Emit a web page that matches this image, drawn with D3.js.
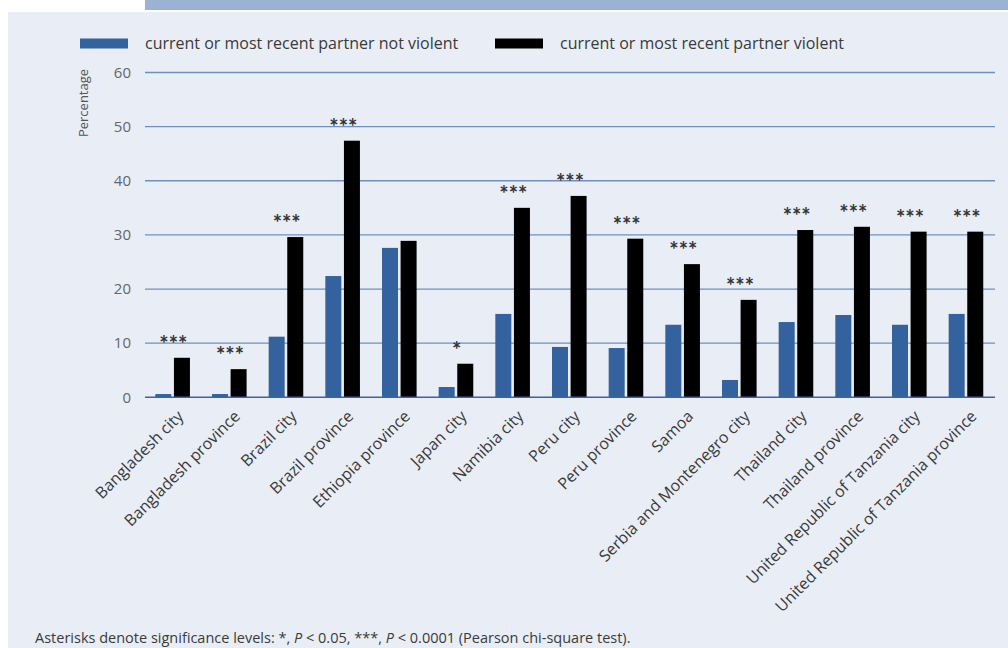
<!DOCTYPE html>
<html>
<head>
<meta charset="utf-8">
<script src="https://cdn.jsdelivr.net/npm/d3@7/dist/d3.min.js"></script>
<style>
  html, body { margin: 0; padding: 0; background: #ffffff; }
  svg { display: block; font-family: "Open Sans", "Lato", sans-serif; }
</style>
</head>
<body>
<svg id="chart" width="1008" height="648"></svg>
<script>
// Sites surveyed
const categories = [
  "Bangladesh city", "Bangladesh province", "Brazil city", "Brazil province",
  "Ethiopia province", "Japan city", "Namibia city", "Peru city", "Peru province",
  "Samoa", "Serbia and Montenegro city", "Thailand city", "Thailand province",
  "United Republic of Tanzania city", "United Republic of Tanzania province"
];
// Percentage, by whether the current or most recent partner was violent
const notViolent = [0.6, 0.6, 11.2, 22.4, 27.6, 1.9, 15.4, 9.3, 9.1, 13.4, 3.2, 13.9, 15.2, 13.4, 15.4];
const violent    = [7.3, 5.2, 29.6, 47.4, 28.9, 6.2, 35.0, 37.2, 29.3, 24.6, 18.0, 30.9, 31.5, 30.6, 30.6];
// Significance markers
const significance = ["***", "***", "***", "***", "", "*", "***", "***", "***", "***", "***", "***", "***", "***", "***"];
const yTicks = [0, 10, 20, 30, 40, 50, 60];
const seriesNames = ["current or most recent partner not violent", "current or most recent partner violent"];

const svg = d3.select("#chart");
const W = 1008, H = 648;
const colBlue = "#33629e", colBlack = "#000000";
const textCol = "#3a3a3a";

// panel and header band
svg.append("rect").attr("x", 8).attr("y", 12).attr("width", W - 8).attr("height", H - 12).attr("fill", "#e9edf5");
svg.append("rect").attr("x", 145).attr("y", 0).attr("width", W - 145).attr("height", 10).attr("fill", "#9bb2d3");

const plotLeft = 145, plotRight = 995, plotTop = 72.5, plotBottom = 397.3;

const x = d3.scaleBand().domain(categories).range([plotLeft, plotRight]).paddingInner(0).paddingOuter(0);
const y = d3.scaleLinear().domain([0, 60]).range([plotBottom, plotTop]);

// gridlines
svg.append("g").selectAll("line").data(yTicks.filter(d => d > 0)).join("line")
  .attr("x1", plotLeft).attr("x2", plotRight)
  .attr("y1", d => y(d)).attr("y2", d => y(d))
  .attr("stroke", "#6f8fc0").attr("stroke-width", 1.3);

// y axis labels
const yAxis = d3.axisLeft(y).tickValues(yTicks).tickSize(0).tickPadding(14);
const gy = svg.append("g").attr("transform", `translate(${plotLeft},0)`).call(yAxis);
gy.select(".domain").remove();
gy.selectAll("text").attr("fill", "#666").attr("font-size", 15).attr("font-family", "Open Sans, sans-serif");

svg.append("text")
  .attr("transform", `translate(88,103) rotate(-90)`)
  .attr("text-anchor", "middle")
  .attr("fill", "#555").attr("font-size", 13)
  .text("Percentage");

// bars
const barW = 16, gap = 2.6;
const groups = svg.append("g").selectAll("g").data(categories).join("g")
  .attr("transform", d => `translate(${x(d) + x.bandwidth() / 2},0)`);

groups.append("rect")
  .attr("x", -barW - gap / 2 - 0.7).attr("width", barW)
  .attr("y", (d, i) => y(notViolent[i]))
  .attr("height", (d, i) => y(0) - y(notViolent[i]))
  .attr("fill", colBlue);

groups.append("rect")
  .attr("x", gap / 2 - 0.7).attr("width", barW)
  .attr("y", (d, i) => y(violent[i]))
  .attr("height", (d, i) => y(0) - y(violent[i]))
  .attr("fill", colBlack);

groups.append("text")
  .attr("x", 0)
  .attr("y", (d, i) => y(violent[i]) - 6)
  .attr("text-anchor", "middle")
  .attr("fill", "#333").attr("font-size", 22).attr("font-weight", "bold")
  .attr("font-family", "Lato, sans-serif")
  .text((d, i) => significance[i]);

// baseline
svg.append("line").attr("x1", plotLeft).attr("x2", plotRight).attr("y1", y(0)).attr("y2", y(0))
  .attr("stroke", "#3a64a4").attr("stroke-width", 1.5);

// category labels
const gx = svg.append("g").attr("transform", `translate(0,${plotBottom})`)
  .call(d3.axisBottom(x).tickSize(0).tickPadding(0));
gx.select(".domain").remove();
gx.selectAll("text")
  .attr("font-size", 16).attr("fill", textCol).attr("font-family", "Open Sans, sans-serif")
  .attr("text-anchor", "end")
  .attr("dy", 0).attr("y", 0)
  .attr("transform", "translate(11,20) rotate(-45)");

// legend
const legend = svg.append("g");
[[80, 145, colBlue], [495, 560, colBlack]].forEach(([sx, tx, c], i) => {
  legend.append("rect").attr("x", sx).attr("y", 38.5).attr("width", 48).attr("height", 10).attr("fill", c);
  legend.append("text").attr("x", tx).attr("y", 49).attr("fill", textCol).attr("font-size", 16)
    .text(seriesNames[i]);
});

// footnote
const note = svg.append("text").attr("x", 35).attr("y", 643).attr("fill", textCol).attr("font-size", 14.5);
note.append("tspan").text("Asterisks denote significance levels: *, ");
note.append("tspan").attr("font-style", "italic").text("P");
note.append("tspan").text(" < 0.05, ***, ");
note.append("tspan").attr("font-style", "italic").text("P");
note.append("tspan").text(" < 0.0001 (Pearson chi-square test).");
</script>
</body>
</html>
